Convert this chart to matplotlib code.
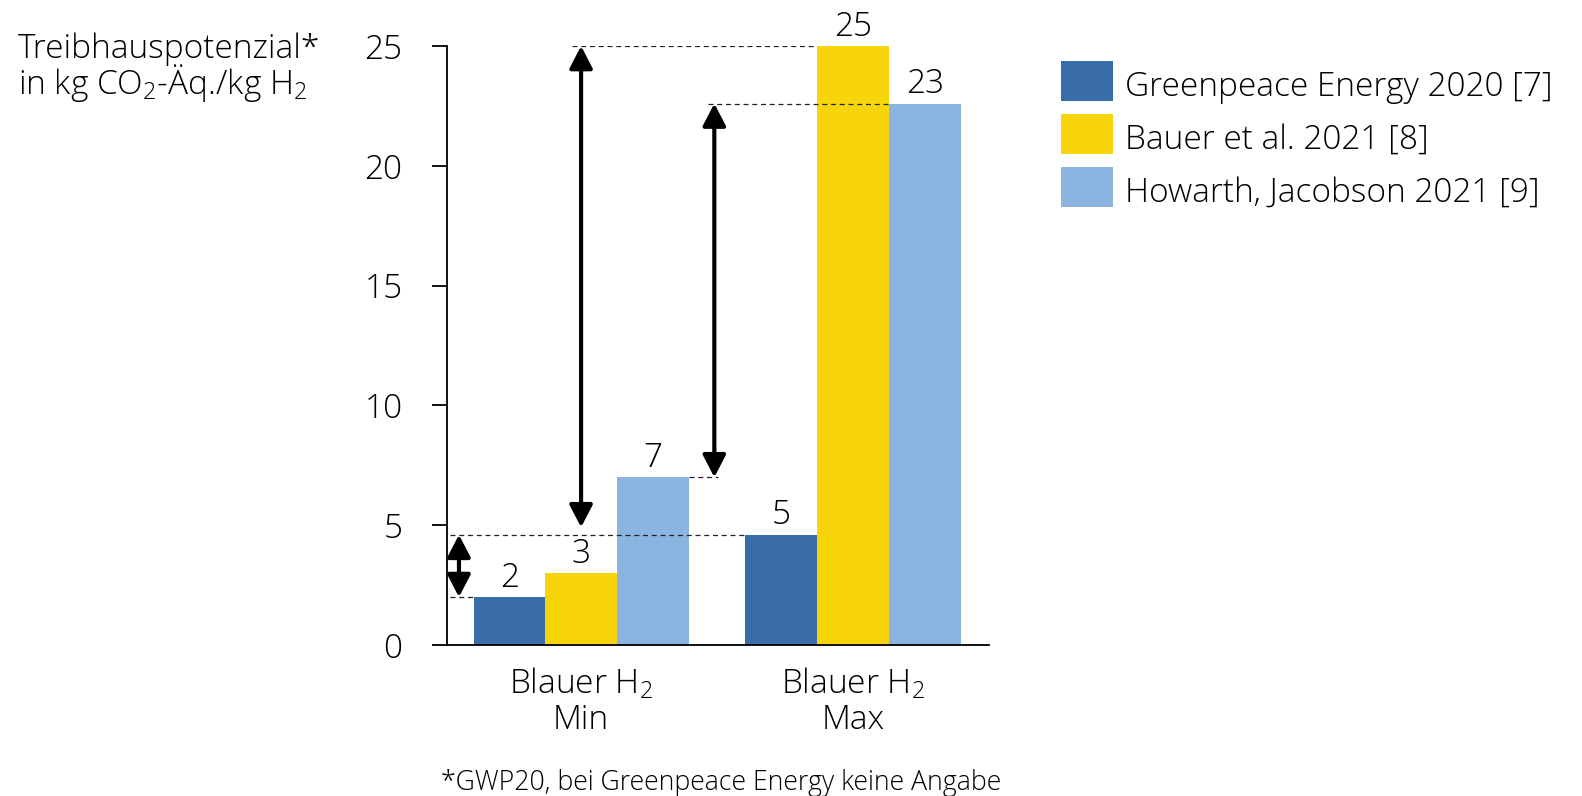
import matplotlib
matplotlib.use("Agg")
import matplotlib.pyplot as plt
from matplotlib.patches import Rectangle
import numpy as np

plt.rcParams["font.family"] = ["Open Sans", "DejaVu Sans"]
plt.rcParams["font.weight"] = "light"
plt.rcParams["font.size"] = 24
plt.rcParams["mathtext.default"] = "regular"

groups = ["Blauer H$_2$\nMin", "Blauer H$_2$\nMax"]
sources = ["Greenpeace Energy 2020 [7]", "Bauer et al. 2021 [8]", "Howarth, Jacobson 2021 [9]"]
greenpeace = [2.0, 4.6]
bauer = [3.0, 25.0]
howarth = [7.0, 22.6]
colors = ["#3A6CA7", "#F7D50A", "#8CB4E0"]

W, H = 1582, 796
fig = plt.figure(figsize=(W / 100, H / 100), dpi=100)
ax = fig.add_axes([447 / W, 1 - 645 / H, 542 / W, 599 / H])

x = np.arange(len(groups))
w = 0.2636
series = [greenpeace, bauer, howarth]
for i, vals in enumerate(series):
    xs = x + (i - 1) * w
    ax.bar(xs, vals, width=w, color=colors[i], zorder=2)
    for xi, v in zip(xs, vals):
        ax.annotate(f"{v:.0f}", (xi, v), xytext=(0, 7.5), textcoords="offset points",
                    ha="center", va="baseline", annotation_clip=False)

ax.set_xlim(-0.493, 1.5)
ax.set_ylim(0, 25)
ax.set_yticks([0, 5, 10, 15, 20, 25])
ax.set_xticks(x)
ax.set_xticklabels(groups, linespacing=1.1)
ax.tick_params(axis="x", length=0, pad=15)
ax.tick_params(axis="y", length=11, width=1.3, pad=21)
for s in ["top", "right"]:
    ax.spines[s].set_visible(False)
for s in ["left", "bottom"]:
    ax.spines[s].set_linewidth(1.3)

# dashed guide lines from the bar tops to the range arrows
dash = dict(color="#222222", linestyle=(0, (4, 3)), linewidth=0.9, zorder=3)
ax.plot([-0.482, x[0] - 1.5 * w], [greenpeace[0]] * 2, **dash)
ax.plot([-0.482, x[1] - 1.5 * w], [greenpeace[1]] * 2, **dash)
ax.plot([x[0] + 1.5 * w, 0.503], [howarth[0]] * 2, **dash)
ax.plot([0.467, x[1] + 0.5 * w], [howarth[1]] * 2, **dash)
ax.plot([-0.033, x[1] - 0.5 * w], [bauer[1]] * 2, **dash)

arrow = dict(arrowstyle="<|-|>,head_length=1.35,head_width=0.7", color="black",
             linewidth=3, mutation_scale=10, shrinkA=0, shrinkB=0)
ax.annotate("", xy=(-0.449, greenpeace[0]), xytext=(-0.449, greenpeace[1]),
            arrowprops=arrow, zorder=4)
ax.annotate("", xy=(x[0], bauer[0]), xytext=(x[0], bauer[1]),
            arrowprops=dict(arrow, shrinkB=33), zorder=4)
ax.annotate("", xy=(0.49, howarth[0]), xytext=(0.49, howarth[1]),
            arrowprops=arrow, zorder=4)

# two-line axis title, anchored at the baseline of its second line
fig.text(18 / W, 1 - 94 / H, "Treibhauspotenzial*\nin kg CO$_2$-Äq./kg H$_2$",
         ha="left", va="baseline", linespacing=0.875)

# legend: colour squares with source names
for i, (label, c) in enumerate(zip(sources, colors)):
    top = 61 + i * 53
    fig.patches.append(Rectangle((1061 / W, 1 - (top + 40) / H), 52 / W, 40 / H,
                                 facecolor=c, edgecolor="none", transform=fig.transFigure))
    fig.text(1125 / W, 1 - (top + 35) / H, label, ha="left", va="baseline")

fig.text(721 / W, 1 - 783 / H, "*GWP20, bei Greenpeace Energy keine Angabe",
         ha="center", va="center", fontsize=19.2)

fig.savefig("out.png", dpi=100)
